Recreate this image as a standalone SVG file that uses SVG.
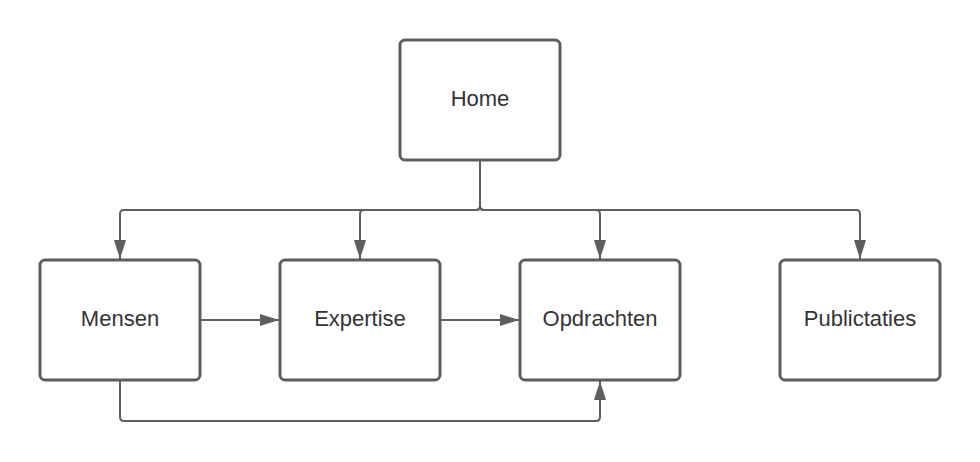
<svg xmlns="http://www.w3.org/2000/svg" width="980" height="462" viewBox="0 0 980 462">
<style>
.box{fill:#fff;stroke:#5e5e5e;stroke-width:3}
.lbl{font-family:"Liberation Sans",Arial,sans-serif;font-size:22px;fill:#333;text-anchor:middle}
.con{fill:none;stroke:#5e5e5e;stroke-width:2}
</style>
<defs>
<marker id="ah" markerWidth="19" markerHeight="12" refX="19" refY="6" orient="auto" markerUnits="userSpaceOnUse">
<path d="M0,0 L19,6 L0,12 Z" fill="#5e5e5e"/>
</marker>
</defs>
<rect width="980" height="462" fill="#fff"/>
<g id="connectors">
<path class="con" marker-end="url(#ah)" d="M480,160 V206 Q480,210 476,210 H124 Q120,210 120,214 V259"/>
<path class="con" marker-end="url(#ah)" d="M480,160 V206 Q480,210 476,210 H364 Q360,210 360,214 V259"/>
<path class="con" marker-end="url(#ah)" d="M480,160 V206 Q480,210 484,210 H596 Q600,210 600,214 V259"/>
<path class="con" marker-end="url(#ah)" d="M480,160 V206 Q480,210 484,210 H856 Q860,210 860,214 V259"/>
<path class="con" marker-end="url(#ah)" d="M200,320 H279"/>
<path class="con" marker-end="url(#ah)" d="M440,320 H519"/>
<path class="con" marker-end="url(#ah)" d="M120,380 V417 Q120,421 124,421 H596 Q600,421 600,417 V381"/>
</g>
<g id="home"><rect class="box" x="400" y="40" width="160" height="120" rx="5"/><text class="lbl" x="480" y="106">Home</text></g>
<g id="mensen"><rect class="box" x="40" y="260" width="160" height="120" rx="5"/><text class="lbl" x="120" y="326">Mensen</text></g>
<g id="expertise"><rect class="box" x="280" y="260" width="160" height="120" rx="5"/><text class="lbl" x="360" y="326">Expertise</text></g>
<g id="opdrachten"><rect class="box" x="520" y="260" width="160" height="120" rx="5"/><text class="lbl" x="600" y="326">Opdrachten</text></g>
<g id="publictaties"><rect class="box" x="780" y="260" width="160" height="120" rx="5"/><text class="lbl" x="860" y="326">Publictaties</text></g>
</svg>
